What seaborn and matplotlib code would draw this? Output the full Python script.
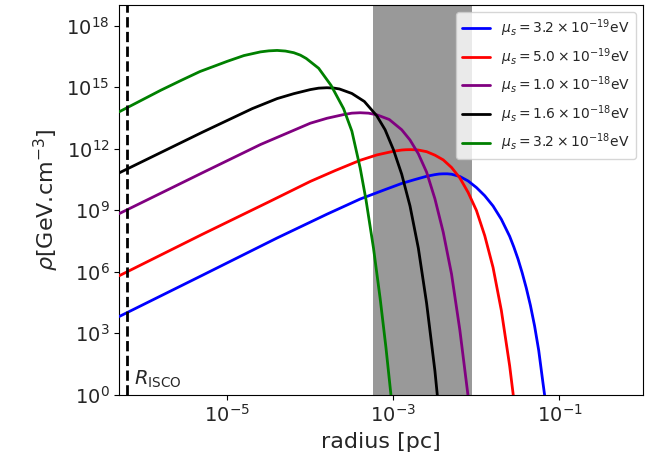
import numpy as np
import pandas as pd
import matplotlib
matplotlib.use("Agg")
import matplotlib.pyplot as plt
import seaborn as sns

sns.set_style("ticks")
plt.rcParams["font.family"] = ["DejaVu Sans"]

# log10(radius [pc]) and log10(rho [GeV/cm^3])
logr_blue = [-6.30, -5.30, -4.40, -3.80, -3.40, -3.10, -2.90, -2.75, -2.60, -2.50,
             -2.45, -2.40, -2.35, -2.30, -2.20, -2.10, -2.00, -1.90, -1.80, -1.70,
             -1.60, -1.55, -1.50, -1.45, -1.40, -1.35, -1.30, -1.25, -1.20, -1.15]
logrho_blue = [3.81, 5.82, 7.64, 8.80, 9.54, 10.00, 10.30, 10.48, 10.65, 10.73,
               10.76, 10.77, 10.77, 10.75, 10.64, 10.42, 10.10, 9.70, 9.20, 8.55,
               7.72, 7.20, 6.62, 5.95, 5.20, 4.35, 3.35, 2.15, 0.60, -0.90]

logr_red = [-6.30, -5.30, -4.50, -4.00, -3.70, -3.40, -3.20, -3.00, -2.90, -2.85,
            -2.80, -2.75, -2.70, -2.65, -2.60, -2.50, -2.40, -2.30, -2.20, -2.10,
            -2.00, -1.90, -1.80, -1.70, -1.60, -1.53]
logrho_red = [5.80, 7.82, 9.40, 10.40, 10.93, 11.43, 11.69, 11.87, 11.93, 11.945,
              11.95, 11.945, 11.93, 11.89, 11.85, 11.68, 11.45, 11.08, 10.57, 9.86,
              8.98, 7.75, 6.20, 4.10, 1.40, -0.90]

logr_purple = [-6.30, -5.30, -4.60, -4.30, -4.00, -3.80, -3.60, -3.50, -3.40, -3.30,
               -3.20, -3.05, -2.90, -2.80, -2.70, -2.60, -2.50, -2.40, -2.30, -2.20,
               -2.10, -2.06]
logrho_purple = [8.83, 10.82, 12.20, 12.72, 13.24, 13.48, 13.66, 13.73, 13.75, 13.73,
                 13.65, 13.42, 12.92, 12.42, 11.75, 10.85, 9.55, 7.92, 5.88, 3.15,
                 -0.10, -1.50]

logr_black = [-6.30, -5.30, -4.70, -4.40, -4.20, -4.00, -3.90, -3.80, -3.72, -3.65,
              -3.50, -3.35, -3.20, -3.10, -3.00, -2.90, -2.80, -2.70, -2.60, -2.50,
              -2.45]
logrho_black = [10.82, 12.80, 13.95, 14.44, 14.68, 14.88, 14.95, 14.97, 14.955, 14.91,
                14.69, 14.30, 13.60, 12.92, 11.95, 10.75, 9.20, 7.15, 4.45, 1.15,
                -0.90]

logr_green = [-6.30, -5.80, -5.55, -5.33, -5.00, -4.80, -4.60, -4.50, -4.40, -4.30,
              -4.20, -4.12, -4.05, -3.90, -3.75, -3.60, -3.50, -3.40, -3.33, -3.24,
              -3.16, -3.09, -3.03, -3.00]
logrho_green = [13.80, 14.85, 15.34, 15.76, 16.26, 16.54, 16.72, 16.77, 16.79, 16.76,
                16.68, 16.56, 16.40, 15.92, 15.08, 13.95, 12.85, 11.05, 9.50, 7.15,
                4.70, 2.30, 0.00, -1.40]

labels = [r"$\mu_s = 3.2\times10^{-19}$eV", r"$\mu_s = 5.0\times10^{-19}$eV",
          r"$\mu_s = 1.0\times10^{-18}$eV", r"$\mu_s = 1.6\times10^{-18}$eV",
          r"$\mu_s = 3.2\times10^{-18}$eV"]
colors = ["blue", "red", "purple", "black", "green"]

r_isco = 6.2e-7
band = [5.75e-4, 8.9e-3]

curves = [(logr_blue, logrho_blue), (logr_red, logrho_red), (logr_purple, logrho_purple),
          (logr_black, logrho_black), (logr_green, logrho_green)]

fig = plt.figure(figsize=(6.59, 4.68), dpi=100)
ax = fig.add_axes([0.181, 0.157, 0.794, 0.832])

ax.axvspan(band[0], band[1], color="gray", alpha=0.8, lw=0, zorder=1)

for (lr, lrho), c, lab in zip(curves, colors, labels):
    df = pd.DataFrame({"r": 10 ** np.array(lr), "rho": 10 ** np.array(lrho)})
    sns.lineplot(data=df, x="r", y="rho", color=c, lw=2, label=lab,
                 estimator=None, sort=False, ax=ax, zorder=3)

ax.axvline(r_isco, color="black", ls="--", lw=2, zorder=4)
ax.text(7.5e-7, 1.6, r"$R_{\rm ISCO}$", fontsize=14, va="bottom", ha="left")

ax.set_xscale("log")
ax.set_yscale("log")
ax.set_xlim(5.0e-7, 1.0)
ax.set_ylim(1, 1e19)
ax.set_xticks([1e-5, 1e-3, 1e-1])
ax.set_yticks([1e0, 1e3, 1e6, 1e9, 1e12, 1e15, 1e18])
ax.minorticks_off()
ax.tick_params(labelsize=14, color="black")
for s in ax.spines.values():
    s.set_color("black")

ax.set_xlabel("radius [pc]", fontsize=16)
ax.set_ylabel(r"$\rho$[GeV.cm$^{-3}$]", fontsize=16)
ax.legend(loc="upper right", fontsize=10)

fig.savefig("out.png", dpi=100)
